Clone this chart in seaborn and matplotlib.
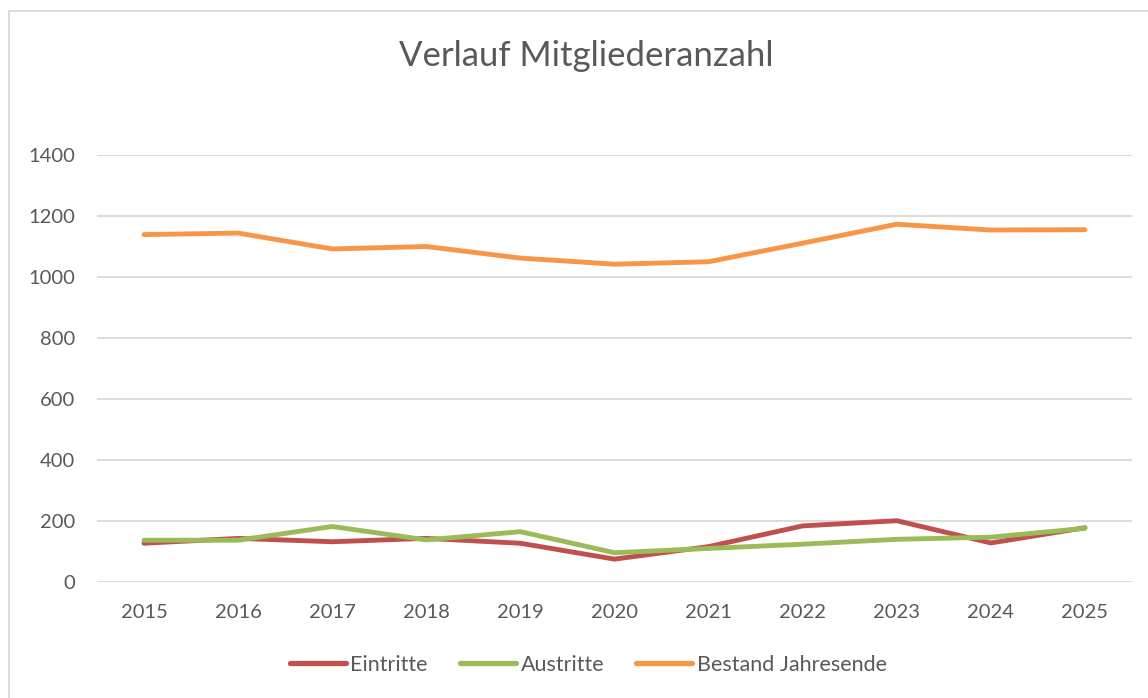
import pandas as pd
import matplotlib
matplotlib.use("Agg")
import matplotlib.pyplot as plt
import seaborn as sns
from matplotlib.patches import Rectangle

# Daten
jahre = [2015, 2016, 2017, 2018, 2019, 2020, 2021, 2022, 2023, 2024, 2025]
eintritte = [127, 143, 132, 143, 127, 75, 116, 184, 201, 128, 178]
austritte = [137, 137, 182, 138, 165, 96, 110, 124, 140, 147, 176]
bestand = [1139, 1144, 1092, 1100, 1062, 1042, 1050, 1111, 1173, 1154, 1155]

serien = ["Eintritte", "Austritte", "Bestand Jahresende"]
farben = ["#C0504D", "#9BBB59", "#F79646"]

df = pd.DataFrame({"Jahr": [str(j) for j in jahre],
                   "Eintritte": eintritte,
                   "Austritte": austritte,
                   "Bestand Jahresende": bestand})
df_long = df.melt(id_vars="Jahr", var_name="Serie", value_name="Wert")

sns.set_theme(style="white")
plt.rcParams["font.family"] = ["Lato", "DejaVu Sans"]
textfarbe = "#595959"

fig = plt.figure(figsize=(11.48, 6.98), dpi=100)
ax = fig.add_axes([97 / 1148, 1 - 582 / 698, 1035 / 1148, 427 / 698])

sns.lineplot(data=df_long, x="Jahr", y="Wert", hue="Serie", hue_order=serien,
             palette=farben, linewidth=3.5, ax=ax, legend=False,
             solid_capstyle="round", solid_joinstyle="round")

ax.set_xlim(-0.5, len(jahre) - 0.5)
ax.set_ylim(0, 1400)
ax.set_yticks(range(0, 1401, 200))
ax.yaxis.grid(True, color="#D9D9D9", linewidth=1.3)
ax.set_axisbelow(True)
for s in ax.spines.values():
    s.set_visible(False)
ax.set_xlabel("")
ax.set_ylabel("")
ax.tick_params(axis="y", length=0, pad=16, labelsize=14.5, labelcolor=textfarbe)
ax.tick_params(axis="x", length=0, pad=16, labelsize=14.5, labelcolor=textfarbe)

fig.text(0.511, 1 - 56 / 698, "Verlauf Mitgliederanzahl", ha="center", va="center",
         fontsize=25, color=textfarbe)

# Legende unten
handles = [plt.Line2D([0], [0], color=c, linewidth=3.8, solid_capstyle="round") for c in farben]
fig.legend(handles, serien, loc="center", bbox_to_anchor=(0.5126, 1 - 665 / 698),
           ncol=3, frameon=False, fontsize=15.5, labelcolor=textfarbe,
           handlelength=2.6, handletextpad=0.2, columnspacing=1.5)

# Rahmen des Diagrammbereichs
fig.patches.append(Rectangle((9 / 1148, -0.1), 1.2, 1 - 11 / 698 + 0.1,
                             transform=fig.transFigure, fill=False,
                             edgecolor="#D9D9D9", linewidth=1.3))

fig.savefig("out.png", dpi=100)
